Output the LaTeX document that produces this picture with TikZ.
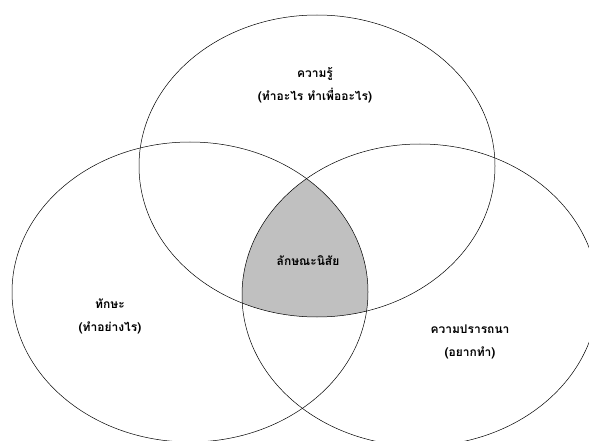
\documentclass[tikz,border=0pt]{standalone}
\usepackage{fontspec}
\newfontfamily\thaifont[Script=Thai]{Loma}
\usetikzlibrary{positioning}
\definecolor{coregray}{RGB}{192,192,192}

\begin{document}
\begin{tikzpicture}[x=1pt, y=-1pt,
    ring/.style={draw=black, line width=0.5pt},
    lbl/.style={font=\thaifont\bfseries\fontsize{12}{23}\selectfont, align=center, inner sep=1pt},
]
    \useasboundingbox (0,0) rectangle (589,441);
    \clip (0,0) rectangle (589,441);
    % shaded core
    \begin{scope}
        \clip (317,166) ellipse [x radius=178, y radius=151];
        \clip (190,292) ellipse [x radius=178, y radius=150];
        \fill[coregray] (420,295) ellipse [x radius=178, y radius=151];
    \end{scope}
    \draw[ring] (317,166) ellipse [x radius=178, y radius=151];
    \draw[ring] (190,292) ellipse [x radius=178, y radius=150];
    \draw[ring] (420,295) ellipse [x radius=178, y radius=151];

    \node[lbl] (know) at (315,85) {ความรู้\\(ทำอะไร ทำเพื่ออะไร)};
    \node[lbl] (trait) at (308,261) {ลักษณะนิสัย};
    \node[lbl] (skill) at (110,316) {ทักษะ\\(ทำอย่างไร)};
    \node[lbl] (wish) at (470,342) {ความปรารถนา\\(อยากทำ)};
\end{tikzpicture}
\end{document}
